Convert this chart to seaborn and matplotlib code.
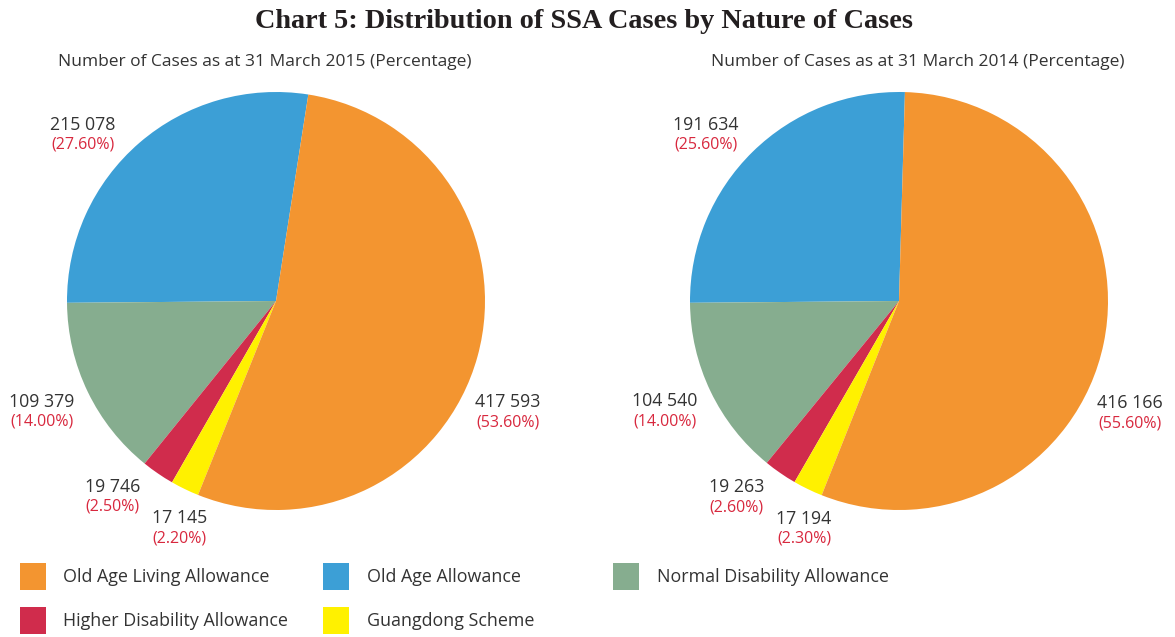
import numpy as np
import seaborn as sns
import matplotlib.pyplot as plt
from matplotlib.patches import Rectangle

# data
categories = ["Old Age Living Allowance", "Old Age Allowance",
              "Normal Disability Allowance", "Higher Disability Allowance",
              "Guangdong Scheme"]
cases_2015 = [417593, 215078, 109379, 19746, 17145]
pct_2015 = ["53.60%", "27.60%", "14.00%", "2.50%", "2.20%"]
cases_2014 = [416166, 191634, 104540, 19263, 17194]
pct_2014 = ["55.60%", "25.60%", "14.00%", "2.60%", "2.30%"]
colors = ["#F39530", "#3C9FD6", "#86AD8F", "#D02C4C", "#FFF100"]

sns.set_theme(style="white")
plt.rcParams["font.family"] = ["Open Sans", "DejaVu Sans"]

W, H = 1175, 637
fig = plt.figure(figsize=(W / 100, H / 100), dpi=100)
fig.patch.set_facecolor("white")

# wedges go counterclockwise: blue, green, red, yellow, orange
draw_order = [1, 2, 3, 4, 0]
# label nudges (radius factor, angle shift in degrees), per category
label_rad = [1.23, 1.22, 1.24, 1.22, 1.18]
label_shift_2015 = [-10.3, 8.5, -0.5, -5.4, 2.9]
label_shift_2014 = [-14.2, 4.9, -0.4, -5.0, 3.2]


def pie_panel(cx, cy, r, x0, x1, y0, y1, values, pcts, shifts, subtitle, sub_x):
    ax = fig.add_axes([x0 / W, 1 - y1 / H, (x1 - x0) / W, (y1 - y0) / H])
    vals = [values[i] for i in draw_order]
    cols = [colors[i] for i in draw_order]
    blue_share = values[1] / sum(values)
    wedges, _ = ax.pie(vals, colors=cols, startangle=180.5 - blue_share * 360,
                       counterclock=True, radius=1,
                       wedgeprops=dict(linewidth=0, antialiased=True))
    ax.set_aspect("auto")
    ax.set_xlim((x0 - cx) / r, (x1 - cx) / r)
    ax.set_ylim((cy - y1) / r, (cy - y0) / r)
    ax.axis("off")
    for w, i in zip(wedges, draw_order):
        theta = np.deg2rad((w.theta1 + w.theta2) / 2 + shifts[i])
        pos = (label_rad[i] * np.cos(theta), label_rad[i] * np.sin(theta))
        num = f"{values[i]:,}".replace(",", " ")
        ax.annotate(num, xy=pos, xytext=(0, 10), textcoords="offset pixels",
                    ha="center", va="center", fontsize=12.8, color="#333333",
                    annotation_clip=False)
        ax.annotate(f"({pcts[i]})", xy=pos, xytext=(0, -10),
                    textcoords="offset pixels", ha="center", va="center",
                    fontsize=11.5, color="#D8283E", annotation_clip=False)
    fig.text(sub_x / W, 1 - 62 / H, subtitle, ha="center", va="center",
             fontsize=12.5, color="#333333")


pie_panel(276, 301, 209, 0, 587, 80, 555, cases_2015, pct_2015, label_shift_2015,
          "Number of Cases as at 31 March 2015 (Percentage)", 265)
pie_panel(899, 301, 209, 588, 1175, 80, 555, cases_2014, pct_2014, label_shift_2014,
          "Number of Cases as at 31 March 2014 (Percentage)", 918)

fig.text(584 / W, 1 - 21 / H, "Chart 5: Distribution of SSA Cases by Nature of Cases",
         ha="center", va="center", fontsize=20.3, fontweight="bold",
         family="Liberation Serif", color="#231F20")

# legend in a fixed grid like the original
sq_x = [20, 323, 613]
txt_x = [63, 367, 657]
row_y = [576, 620]
for k, (name, c) in enumerate(zip(categories, colors)):
    col, row = k % 3, k // 3
    fig.add_artist(Rectangle((sq_x[col] / W, 1 - (row_y[row] + 13.5) / H),
                             26 / W, 27 / H, transform=fig.transFigure,
                             facecolor=c, edgecolor="none"))
    fig.text(txt_x[col] / W, 1 - (row_y[row] + 1) / H, name, ha="left", va="center",
             fontsize=12.9, color="#333333")

fig.savefig("out.png", dpi=100, facecolor="white")
